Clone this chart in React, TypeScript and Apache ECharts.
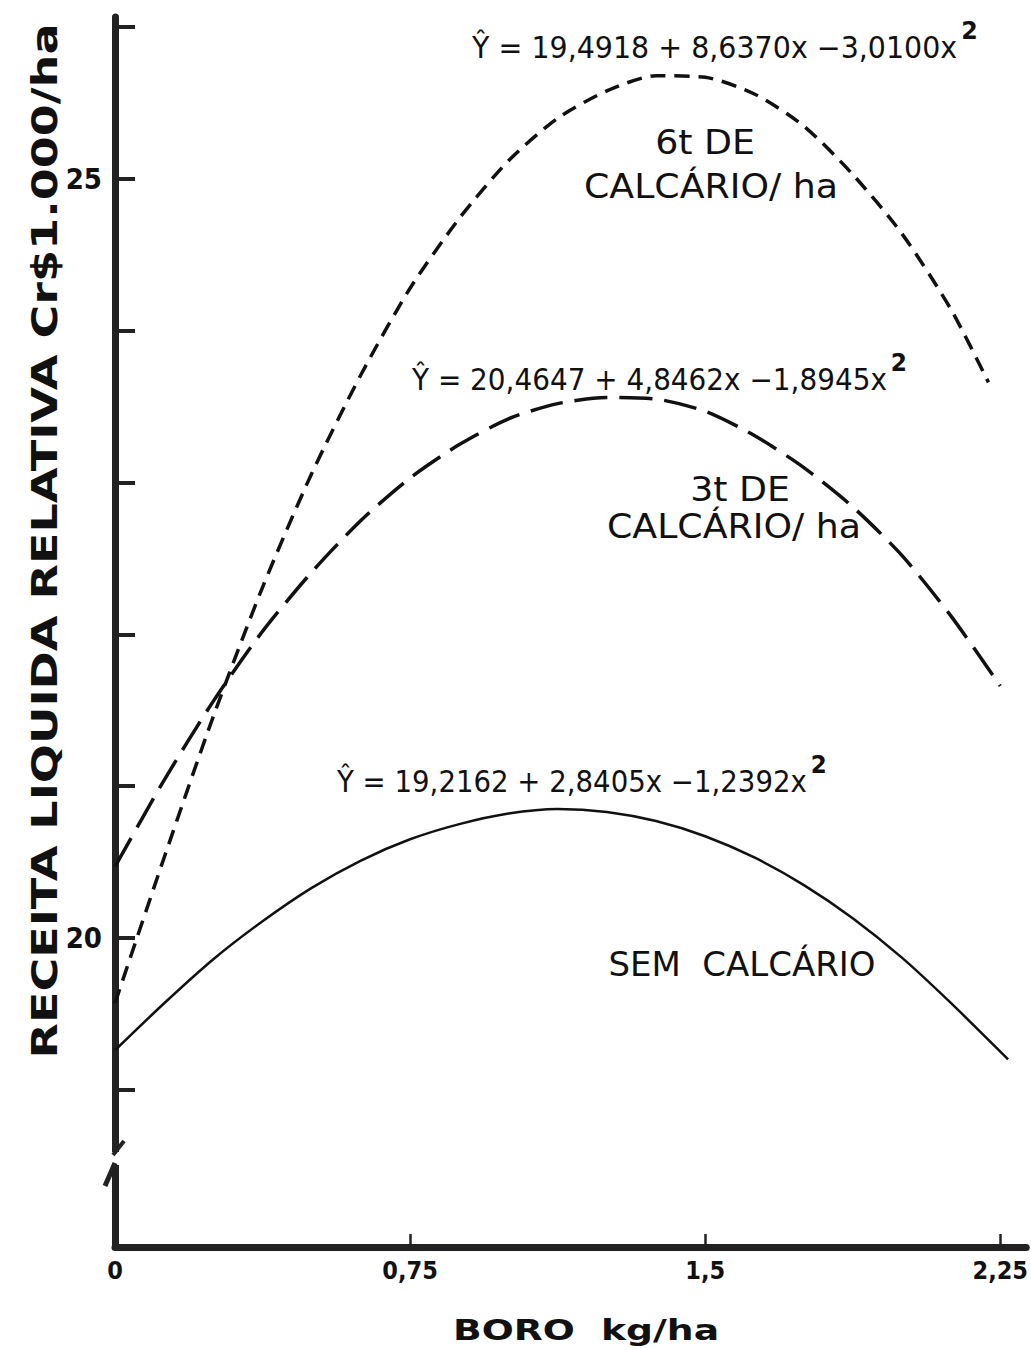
import React, { useEffect, useRef } from 'react';
import * as echarts from 'echarts';

// ---- data ----
const boro6t = [0, 0.125, 0.25, 0.375, 0.5, 0.625, 0.75, 0.875, 1.0, 1.125, 1.25, 1.375, 1.5, 1.625, 1.75, 1.875, 2.0, 2.125, 2.22];
const receita6t = [19.57, 20.53, 21.46, 22.31, 23.06, 23.71, 24.28, 24.74, 25.12, 25.40, 25.58, 25.68, 25.67, 25.56, 25.35, 25.03, 24.64, 24.14, 23.66];

const boro3t = [0, 0.125, 0.25, 0.375, 0.5, 0.625, 0.75, 0.875, 1.0, 1.125, 1.25, 1.375, 1.5, 1.625, 1.75, 1.875, 2.0, 2.125, 2.25];
const receita3t = [20.47, 21.04, 21.56, 22.02, 22.41, 22.75, 23.03, 23.25, 23.42, 23.52, 23.56, 23.55, 23.47, 23.31, 23.10, 22.84, 22.52, 22.12, 21.66];

const boroSem = [0, 0.125, 0.25, 0.375, 0.5, 0.625, 0.75, 0.875, 1.0, 1.125, 1.25, 1.375, 1.5, 1.625, 1.75, 1.875, 2.0, 2.125, 2.27];
const receitaSem = [19.26, 19.57, 19.86, 20.11, 20.33, 20.51, 20.65, 20.75, 20.82, 20.85, 20.83, 20.77, 20.67, 20.53, 20.35, 20.13, 19.87, 19.57, 19.20];

const xTickValues = [0, 0.75, 1.5, 2.25];
const xTickLabels = ['0', '0,75', '1,5', '2,25'];
const yTickValues = [19, 20, 21, 22, 23, 24, 25, 26];
const yLabelValues = [20, 25];

const eq6t = 'Ŷ = 19,4918 + 8,6370x −3,0100x';
const eq3t = 'Ŷ = 20,4647 + 4,8462x −1,8945x';
const eqSem = 'Ŷ = 19,2162 + 2,8405x −1,2392x';

const FONT = 'DejaVu Sans';
const FONT_COND = "'DejaVu Sans Condensed', 'DejaVu Sans'";
const INK = '#111';

function pairs(xs: number[], ys: number[]) {
  return xs.map((x, i) => [x, ys[i]]);
}

function txt(x: number, y: number, text: string, fontSize: number, opts: any = {}) {
  return {
    type: 'text',
    x,
    y,
    z: 10,
    scaleX: opts.sx ?? 1,
    rotation: opts.rot ?? 0,
    style: {
      text,
      fontSize,
      fontFamily: FONT,
      fontWeight: opts.bold ? 'bold' : 'normal',
      fill: INK,
      align: opts.align ?? 'center',
      verticalAlign: 'middle',
    },
  };
}

function eq(x: number, y: number, body: string, sx: number) {
  return {
    type: 'text',
    x,
    y,
    z: 10,
    scaleX: sx,
    style: {
      text: `{m|${body}}{s|2}`,
      align: 'left',
      verticalAlign: 'middle',
      rich: {
        m: { fontSize: 30, fontFamily: FONT, fill: INK, lineHeight: 60 },
        s: { fontSize: 25, fontFamily: FONT, fontWeight: 'bold', fill: INK, verticalAlign: 'top', padding: [0, 0, 0, 4] },
      },
    },
  };
}

export default function App() {
  const ref = useRef<HTMLDivElement>(null);

  useEffect(() => {
    if (!ref.current) return;
    const chart = echarts.init(ref.current, null, { renderer: 'svg' });

    const option: any = {
      animation: false,
      backgroundColor: '#fff',
      grid: { left: 115, right: 2, top: 17, bottom: 102 },
      xAxis: {
        type: 'value',
        min: 0,
        max: 2.316,
        interval: 0.75,
        splitLine: { show: false },
        axisLine: { show: true, lineStyle: { color: '#222', width: 7 } },
        axisTick: {
          show: true,
          inside: true,
          length: 13,
          customValues: [0.75, 1.5, 2.25],
          lineStyle: { color: '#222', width: 2.5 },
        },
        axisLabel: {
          customValues: xTickValues,
          margin: 11,
          fontSize: 25,
          fontWeight: 'bold',
          fontFamily: FONT_COND,
          color: INK,
          formatter: (v: number) => {
            const i = xTickValues.findIndex((t) => Math.abs(t - v) < 1e-6);
            return i >= 0 ? xTickLabels[i] : '';
          },
        },
      },
      yAxis: {
        type: 'value',
        min: 17.964,
        max: 26.067,
        splitLine: { show: false },
        axisLine: { show: true, lineStyle: { color: '#222', width: 7 } },
        axisTick: {
          show: true,
          inside: true,
          length: 20,
          customValues: yTickValues,
          lineStyle: { color: '#222', width: 4 },
        },
        axisLabel: {
          customValues: yLabelValues,
          margin: 13,
          fontSize: 29,
          fontWeight: 'bold',
          fontFamily: FONT_COND,
          color: INK,
          formatter: (v: number) => (yLabelValues.some((t) => Math.abs(t - v) < 1e-6) ? String(v) : ''),
        },
      },
      series: [
        {
          name: '6t de calcário/ha',
          type: 'line',
          data: pairs(boro6t, receita6t),
          smooth: 0.25,
          showSymbol: false,
          lineStyle: { color: INK, width: 3.5, type: [15, 9] },
        },
        {
          name: '3t de calcário/ha',
          type: 'line',
          data: pairs(boro3t, receita3t),
          smooth: 0.25,
          showSymbol: false,
          lineStyle: { color: INK, width: 3.5, type: [33, 12] },
        },
        {
          name: 'Sem calcário',
          type: 'line',
          data: pairs(boroSem, receitaSem),
          smooth: 0.25,
          showSymbol: false,
          lineStyle: { color: INK, width: 2.5 },
        },
      ],
      graphic: [
        // axis break
        { type: 'rect', z: 50, shape: { x: 100, y: 1152, width: 30, height: 13 }, style: { fill: '#fff' } },
        { type: 'line', z: 51, shape: { x1: 113, y1: 1155, x2: 124, y2: 1141 }, style: { stroke: '#222', lineWidth: 4 } },
        { type: 'line', z: 51, shape: { x1: 115, y1: 1163, x2: 105, y2: 1186 }, style: { stroke: '#222', lineWidth: 5 } },
        // axis titles
        txt(45, 541, 'RECEITA LIQUIDA RELATIVA Cr$1.000/ha', 36, { bold: true, rot: Math.PI / 2, sx: 1.28 }),
        txt(586, 1330, 'BORO  kg/ha', 29, { bold: true, sx: 1.3 }),
        // equations
        eq(472, 48, eq6t, 0.95),
        eq(412, 380, eq3t, 0.93),
        eq(337, 782, eqSem, 0.92),
        // curve labels
        txt(705, 143, '6t DE', 33, { sx: 1.1 }),
        txt(711, 187, 'CALCÁRIO/ ha', 33, { sx: 1.1 }),
        txt(740, 490, '3t DE', 33, { sx: 1.1 }),
        txt(734, 527, 'CALCÁRIO/ ha', 33, { sx: 1.1 }),
        txt(742, 965, 'SEM  CALCÁRIO', 33, { sx: 1.03 }),
      ],
    };

    chart.setOption(option);
    return () => chart.dispose();
  }, []);

  return (
    <div
      ref={ref}
      style={{ position: 'absolute', left: 0, top: 0, width: 1031, height: 1349, background: '#fff' }}
    />
  );
}
